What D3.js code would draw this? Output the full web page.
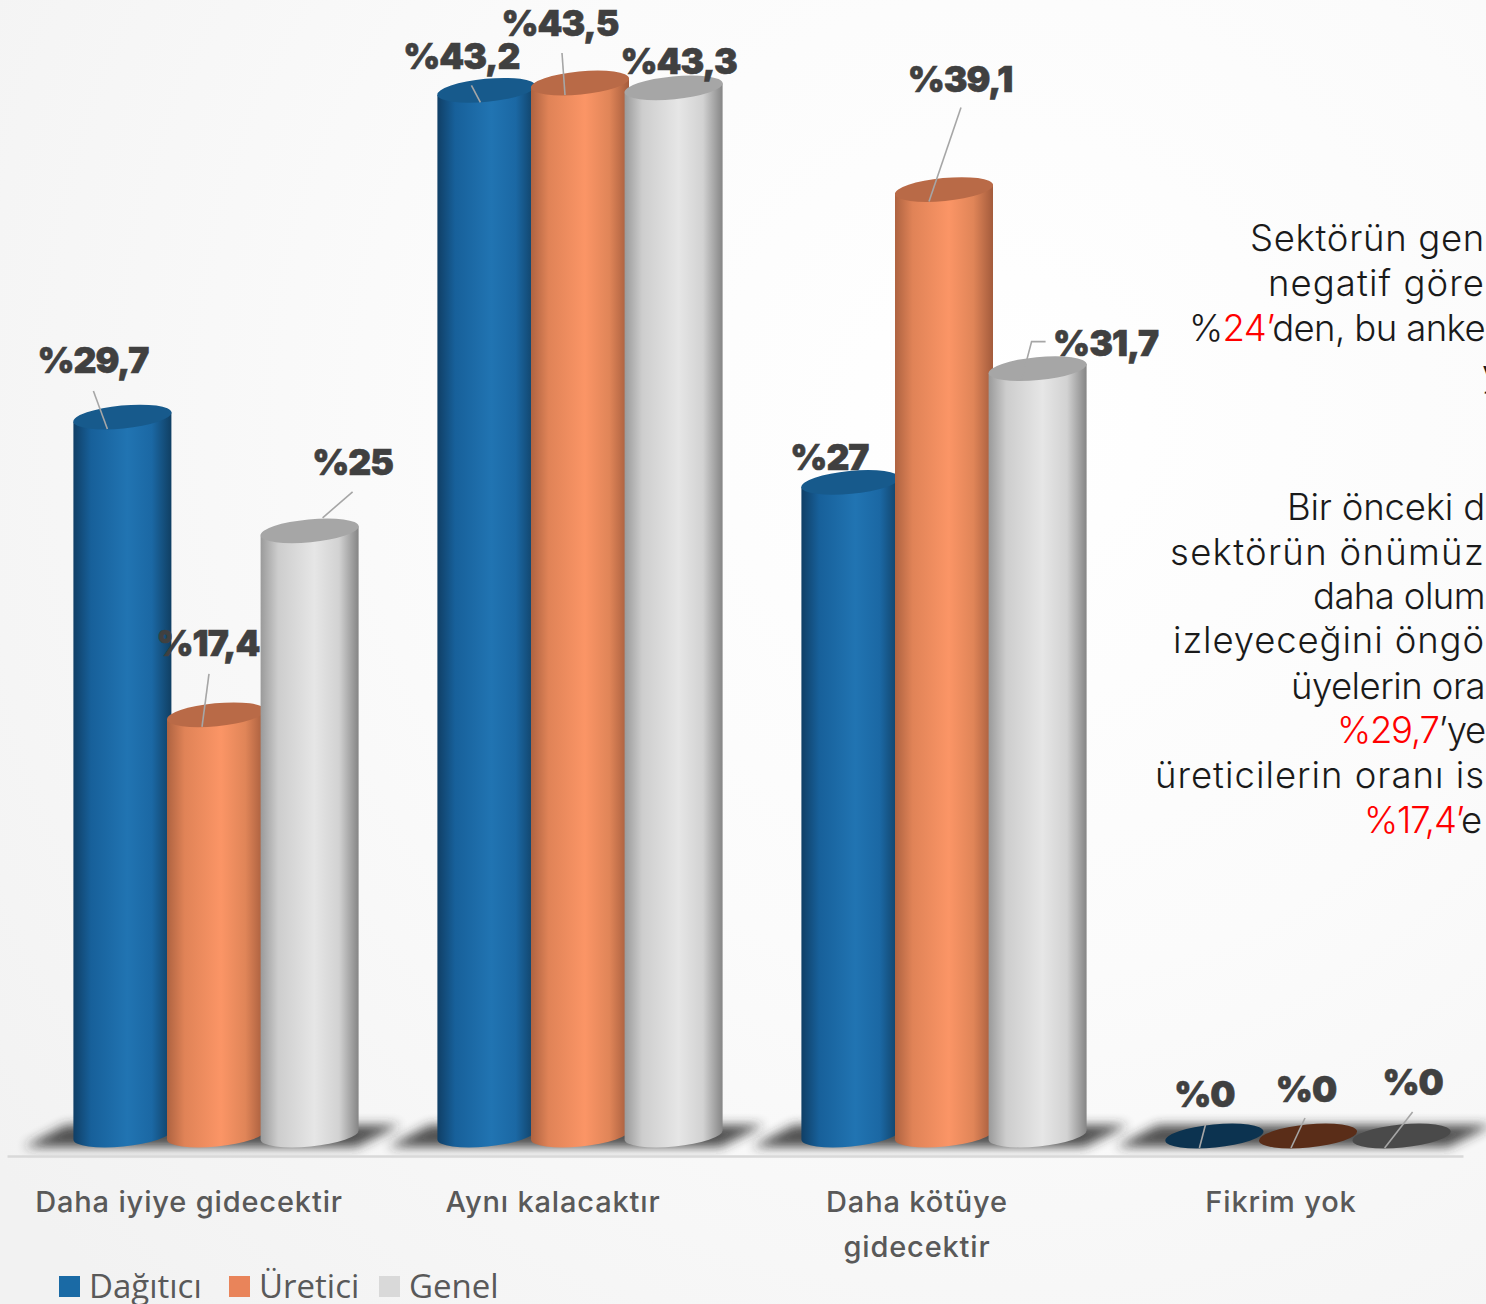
<!DOCTYPE html>
<html><head><meta charset="utf-8">
<script src="https://cdnjs.cloudflare.com/ajax/libs/d3/7.8.5/d3.min.js"></script>
<style>html,body{margin:0;padding:0;overflow:hidden;background:#fff}svg{display:block}</style>
</head><body><svg id="c" width="1486" height="1304"></svg>
<script>
const categories = ["Daha iyiye gidecektir", "Aynı kalacaktır", "Daha kötüye gidecektir", "Fikrim yok"];
const categoryLines = [["Daha iyiye gidecektir"], ["Aynı kalacaktır"], ["Daha kötüye", "gidecektir"], ["Fikrim yok"]];
const seriesNames = ["Dağıtıcı", "Üretici", "Genel"];
const dagitici = [29.7, 43.2, 27, 0];
const uretici = [17.4, 43.5, 39.1, 0];
const genel = [25, 43.3, 31.7, 0];
const seriesValues = [dagitici, uretici, genel];
const valueLabels = [["%29,7","%43,2","%27","%0"],["%17,4","%43,5","%39,1","%0"],["%25","%43,3","%31,7","%0"]];

// label anchor offsets from cylinder-top centre (dx to label centre, dy to baseline), and leader polylines
const labelPos = [
 [[-29.5,-44],[-25,-21],[-21,-12],[-10,-29]],
 [[-8,-47],[-20,-47],[16,-98],[-2,-34]],
 [[43,-56],[5,-14],[68,-13],[11,-41]]
];
labelPos[1][0]=[-8,-59]; labelPos[0][1]=[-25,-21];
const leaders = [
 [[[-29,-26],[-15,12]],[[-15,-5],[-6,12]],null,[[-9,-11],[-15,12]]],
 [[[-7,-41],[-14,12]],[[-18,-30],[-15,12]],[[17,-82],[-15,12]],[[-3,-18],[-17,12]]],
 [[[43,-39],[13,-13]],null,[[8,-27],[-6,-27],[-16,11]],[[11,-24],[-17,12]]]
];

const palette = [
 {stops:["#103f66","#17609a","#2174b2","#1b68a4","#103f63"], top:"#175a8c", floor:"#0c3350", sw:"#1a6aa5"},
 {stops:["#ae6341","#e08357","#fb9566","#e08558","#a35b3c"], top:"#b96a47", floor:"#5a2d18", sw:"#e9845a"},
 {stops:["#9a9a9a","#cdcdcd","#e6e6e6","#d2d2d2","#858585"], top:"#a6a6a6", floor:"#4a4a4a", sw:"#d9d9d9"}
];
const W=1486,H=1304;
const svg=d3.select("#c");
const defs=svg.append("defs");
const bg=defs.append("radialGradient").attr("id","bg").attr("gradientUnits","userSpaceOnUse")
 .attr("cx",1000).attr("cy",420).attr("r",1250);
bg.append("stop").attr("offset",0).attr("stop-color","#ffffff");
bg.append("stop").attr("offset",.45).attr("stop-color","#fbfbfb");
bg.append("stop").attr("offset",1).attr("stop-color","#f2f2f2");
svg.append("rect").attr("width",W).attr("height",H).attr("fill","url(#bg)");
defs.append("filter").attr("id","blur").attr("x","-20%").attr("y","-60%").attr("width","140%").attr("height","220%")
 .append("feGaussianBlur").attr("stdDeviation",5.5);
palette.forEach((p,i)=>{
 const g=defs.append("linearGradient").attr("id","cyl"+i);
 [0,.18,.55,.8,1].forEach((o,k)=>g.append("stop").attr("offset",o).attr("stop-color",p.stops[k]));
});

const x=d3.scaleBand().domain(categories).range([7,1463]).padding(0);
const y=d3.scaleLinear().domain([0,43.5]).range([1136,83]);
const depth=27, step=93.6, rx=49, ry=11.5, tilt=-5.5;
const xs=d3.scalePoint().domain(seriesNames).range([-step,step]);
const cx=(c,s)=>x(c)+x.bandwidth()/2+depth+xs(s);
const lift=rx*Math.sin(-tilt*Math.PI/180);

// fit a text to a horizontal extent by letter spacing
function fit(sel,width){
 const n=sel.text().length, w=sel.node().getComputedTextLength();
 sel.attr("letter-spacing",((width-w)/n).toFixed(3));
}

// floor shadows
const floor=svg.append("g");
categories.forEach(c=>{
 const m=x(c)+x.bandwidth()/2+depth;
 floor.append("path").attr("d",d3.line()([[m-192,1147],[m-150,1125],[m+184,1125],[m+140,1147]])+"Z")
  .attr("fill","#262626").attr("opacity",.8).attr("filter","url(#blur)");
});

// axis
const axis=svg.append("g").attr("transform","translate(0,1156)").call(d3.axisBottom(x).tickSize(0).tickPadding(0));
axis.select(".domain").attr("stroke","#d9d9d9").attr("stroke-width",2.5);
axis.selectAll(".tick text").each(function(c,i){
 const t=d3.select(this).text(null).attr("y",0).attr("dy",null)
   .attr("font-family","Inter, 'Open Sans', sans-serif").attr("font-weight",500)
   .attr("font-size",29).attr("fill","#595959").attr("text-anchor","middle").attr("letter-spacing",.85);
 categoryLines[i].forEach((ln,k)=>t.append("tspan").attr("x",0).attr("y",56+45*k).text(ln));
});

// cylinders
seriesNames.forEach((s,si)=>{
 const g=svg.append("g");
 categories.forEach((c,ci)=>{
  const v=seriesValues[si][ci];
  const X=cx(c,s), Y=y(v), B=y(0);
  if(v>0){
   g.append("path").attr("fill",`url(#cyl${si})`)
    .attr("d",`M${X-rx},${Y+lift}L${X-rx},${B+lift-1}A${rx},${ry} ${tilt} 0 0 ${X+rx},${B-lift-1}L${X+rx},${Y-lift}Z`);
  }
  g.append("ellipse").attr("cx",X).attr("cy",Y).attr("rx",rx+.3).attr("ry",ry)
   .attr("transform",`rotate(${tilt} ${X} ${Y})`)
   .attr("fill",v>0?palette[si].top:palette[si].floor);
 });
});

// leaders
const lg=svg.append("g").attr("fill","none").attr("stroke","#a6a6a6").attr("stroke-width",1.6);
seriesNames.forEach((s,si)=>categories.forEach((c,ci)=>{
 const pts=leaders[si][ci]; if(!pts) return;
 const X=cx(c,s),Y=y(seriesValues[si][ci]);
 lg.append("path").attr("d",d3.line()(pts.map(p=>[X+p[0],Y+p[1]])));
}));

// value labels
const vl=svg.append("g").attr("font-family","Inter, sans-serif").attr("font-weight",900).attr("font-size",35.5)
 .attr("fill","#404040").attr("stroke","#404040").attr("stroke-width",.6)
 .attr("text-anchor","middle").attr("letter-spacing",-1);
seriesNames.forEach((s,si)=>categories.forEach((c,ci)=>{
 const o=labelPos[si][ci];
 vl.append("text").attr("x",cx(c,s)+o[0]).attr("y",y(seriesValues[si][ci])+o[1]).text(valueLabels[si][ci]);
}));

// commentary
const noteLines=[
 [1250,251,1485,[["Sektörün gen",0]]],
 [1268,296,1485,[["negatif göre",0]]],
 [1189,341,1485,[["%",0],["24’",1],["den, bu anke",0]]],
 [1482,386,0,[["y",0]]],
 [1287,520,1485,[["Bir önceki d",0]]],
 [1170,565,1485,[["sektörün önümüz",0]]],
 [1313,609,1485,[["daha olum",0]]],
 [1173,653,1485,[["izleyeceğini öngö",0]]],
 [1291,699,1485,[["üyelerin ora",0]]],
 [1337,743,1485,[["%29,7",1],["’ye",0]]],
 [1155,788,1485,[["üreticilerin oranı is",0]]],
 [1364,833,1481,[["%17,4’",1],["e",0]]]
];
const note=svg.append("g").attr("font-family","Inter, sans-serif").attr("font-weight",300).attr("font-size",36.5);
noteLines.forEach(([nx,ny,end,parts])=>{
 const t=note.append("text").attr("x",nx).attr("y",ny);
 parts.forEach(([txt,red])=>t.append("tspan").attr("fill",red?"#ff0000":"#1a1a1a").text(txt));
 if(end) fit(t,end-nx);
});

// legend
const lx=d3.scaleOrdinal().domain(seriesNames).range([59,229,379]);
const leg=svg.append("g");
seriesNames.forEach((s,i)=>{
 leg.append("rect").attr("x",lx(s)).attr("y",1276).attr("width",21).attr("height",21).attr("fill",palette[i].sw);
 leg.append("text").attr("x",lx(s)+30).attr("y",1298).attr("font-family","'Open Sans', sans-serif")
  .attr("font-size",33).attr("fill","#595959").text(s);
});
</script></body></html>
